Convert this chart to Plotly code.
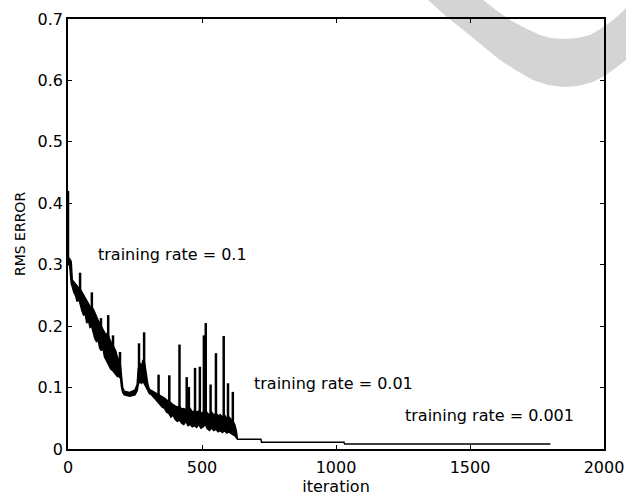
import plotly.graph_objects as go

# ---- data ----
# noisy band (lower / upper envelope) during training rate = 0.1
band_iter = [0, 6, 12, 16, 22, 28, 34, 40, 46, 52, 58, 64, 70, 76, 82, 88, 94, 100, 106, 112,
             118, 124, 130, 136, 142, 148, 154, 160, 166, 172, 178, 184, 190, 196, 200, 204,
             210, 230, 250, 258, 262, 268, 274, 280, 286, 292, 298, 304, 312, 320, 328, 336,
             344, 352, 360, 368, 376, 384, 392, 400, 408, 416, 424, 432, 440, 448, 456, 464,
             472, 480, 488, 496, 504, 512, 520, 528, 536, 544, 552, 560, 568, 576, 584, 592,
             600, 608, 616, 622, 628, 632]
band_low = [0.30, 0.30, 0.27, 0.262, 0.255, 0.25, 0.24, 0.245, 0.232, 0.225, 0.218, 0.22,
            0.205, 0.21, 0.198, 0.2, 0.19, 0.18, 0.175, 0.178, 0.165, 0.16, 0.165, 0.15, 0.145,
            0.14, 0.135, 0.13, 0.128, 0.125, 0.122, 0.118, 0.118, 0.115, 0.1, 0.092, 0.088,
            0.086, 0.088, 0.095, 0.105, 0.11, 0.107, 0.11, 0.105, 0.1, 0.097, 0.09, 0.088,
            0.083, 0.08, 0.076, 0.072, 0.068, 0.066, 0.06, 0.058, 0.052, 0.055, 0.048, 0.045,
            0.047, 0.042, 0.04, 0.045, 0.038, 0.04, 0.036, 0.038, 0.035, 0.04, 0.034, 0.036,
            0.04, 0.033, 0.03, 0.034, 0.03, 0.032, 0.028, 0.03, 0.027, 0.03, 0.026, 0.028,
            0.025, 0.023, 0.022, 0.018, 0.016]
band_high = [0.31, 0.31, 0.305, 0.275, 0.272, 0.268, 0.265, 0.262, 0.26, 0.255, 0.25, 0.245,
             0.24, 0.235, 0.232, 0.23, 0.228, 0.222, 0.215, 0.21, 0.205, 0.2, 0.195, 0.19,
             0.185, 0.19, 0.18, 0.175, 0.17, 0.165, 0.16, 0.15, 0.145, 0.135, 0.12, 0.1, 0.094,
             0.092, 0.096, 0.105, 0.13, 0.14, 0.135, 0.145, 0.14, 0.12, 0.105, 0.097, 0.095,
             0.093, 0.092, 0.09, 0.088, 0.085, 0.083, 0.08, 0.078, 0.075, 0.072, 0.07, 0.068,
             0.07, 0.065, 0.066, 0.064, 0.062, 0.066, 0.06, 0.062, 0.06, 0.062, 0.058, 0.06,
             0.065, 0.058, 0.056, 0.06, 0.055, 0.058, 0.054, 0.056, 0.052, 0.055, 0.05, 0.052,
             0.048, 0.045, 0.04, 0.03, 0.017]

# spikes above the band
spike_iter = [0, 45, 89, 123, 150, 168, 194, 265, 284, 338, 378, 416, 443, 451, 474, 492,
              507, 514, 532, 552, 581, 597, 615]
spike_top = [0.42, 0.287, 0.255, 0.213, 0.218, 0.185, 0.158, 0.172, 0.19, 0.121, 0.12, 0.17,
             0.117, 0.101, 0.132, 0.134, 0.185, 0.205, 0.105, 0.156, 0.184, 0.107, 0.093]
spike_base = [0.30, 0.24, 0.2, 0.17, 0.15, 0.13, 0.12, 0.11, 0.11, 0.08, 0.07, 0.05, 0.05,
              0.05, 0.045, 0.045, 0.045, 0.045, 0.04, 0.04, 0.035, 0.035, 0.03]

# smooth tail (training rate = 0.01 and 0.001)
tail_iter = [630, 720, 722, 1030, 1032, 1800]
tail_error = [0.016, 0.016, 0.011, 0.011, 0.008, 0.008]

assert len(band_iter) == len(band_low) == len(band_high)
assert len(spike_iter) == len(spike_top) == len(spike_base)

x_ticks = [0, 500, 1000, 1500, 2000]
y_ticks = [0, 0.1, 0.2, 0.3, 0.4, 0.5, 0.6, 0.7]
y_tick_text = ["0", "0.1", "0.2", "0.3", "0.4", "0.5", "0.6", "0.7"]

notes = ["training rate = 0.1", "training rate = 0.01", "training rate = 0.001"]
note_x = [104, 688, 1250]
note_y = [0.316, 0.107, 0.054]

FONT = "DejaVu Sans, sans-serif"

fig = go.Figure()
fig.add_trace(go.Scatter(x=band_iter, y=band_low, mode="lines",
                         line=dict(color="black", width=1.5), showlegend=False,
                         hoverinfo="skip"))
fig.add_trace(go.Scatter(x=band_iter, y=band_high, mode="lines", fill="tonexty",
                         fillcolor="black", line=dict(color="black", width=1.5),
                         showlegend=False, hoverinfo="skip"))

sx, sy = [], []
for i, t, b in zip(spike_iter, spike_top, spike_base):
    sx += [i, i, None]
    sy += [b, t, None]
fig.add_trace(go.Scatter(x=sx, y=sy, mode="lines", line=dict(color="black", width=2.5),
                         showlegend=False, hoverinfo="skip"))
fig.add_trace(go.Scatter(x=tail_iter, y=tail_error, mode="lines",
                         line=dict(color="black", width=1.5), showlegend=False,
                         hoverinfo="skip"))

for t, x, y in zip(notes, note_x, note_y):
    fig.add_annotation(x=x, y=y, text=t, showarrow=False, xanchor="left", yanchor="middle",
                       font=dict(family=FONT, size=16, color="black"))

# light grey watermark arc (decoration, paper coords of the plot area)
def P(px, py):
    return f"{(px - 68) / 536:.4f},{(449 - py) / 430:.4f}"

outer = [(428, 0), (447, 17), (467, 33), (484, 47), (500, 60), (517, 71), (533, 80),
         (548, 85), (563, 87), (578, 86), (593, 82), (606, 75), (617, 67), (626, 60),
         (640, 50)]
inner = [(640, -5), (626, 8), (620, 14), (613, 20), (602, 28), (590, 35), (577, 38),
         (563, 39), (551, 38), (540, 35), (525, 28), (510, 20), (496, 10), (483, 0)]
path = "M " + " L ".join(P(*p) for p in outer + inner) + " Z"
fig.add_shape(type="path", path=path, xref="paper", yref="paper",
              fillcolor="#d4d4d4", line=dict(width=0), layer="below")

axis_common = dict(showline=True, linecolor="black", linewidth=1.5, mirror="allticks",
                   ticks="inside", ticklen=4, tickcolor="black", tickwidth=1,
                   showgrid=False, zeroline=False, automargin=False,
                   tickfont=dict(family=FONT, size=16, color="black"))

fig.update_xaxes(range=[0, 2000], tickvals=x_ticks, title_text="iteration",
                 title_font=dict(family=FONT, size=16, color="black"),
                 ticklabelstandoff=3, title_standoff=4, **axis_common)
fig.update_yaxes(range=[0, 0.7], tickvals=y_ticks, ticktext=y_tick_text,
                 title_text="RMS ERROR",
                 title_font=dict(family=FONT, size=14, color="black"),
                 title_standoff=9, **axis_common)

fig.update_layout(width=626, height=500, margin=dict(l=68, r=22, t=19, b=51),
                  paper_bgcolor="white", plot_bgcolor="rgba(0,0,0,0)",
                  font=dict(family=FONT, color="black"))

fig.write_html("out.html")
